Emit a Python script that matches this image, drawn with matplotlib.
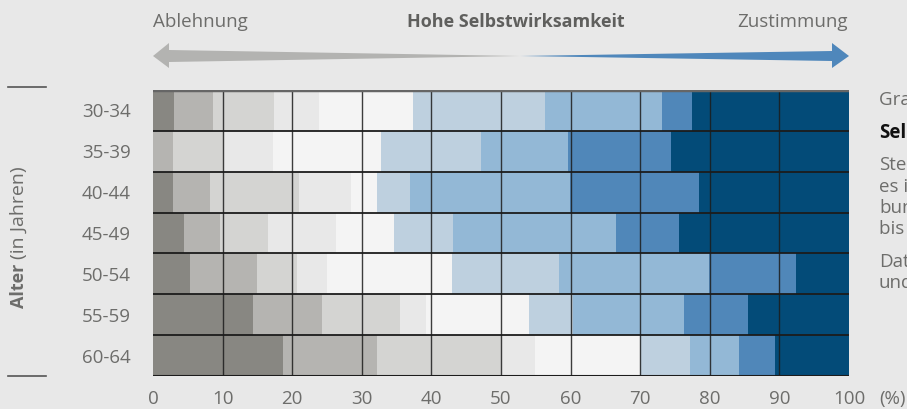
import numpy as np
import matplotlib.pyplot as plt
from matplotlib.patches import Polygon

# %% data
ages = ['30-34', '35-39', '40-44', '45-49', '50-54', '55-59', '60-64']
# shares per answer category (%), from Ablehnung (left) to Zustimmung (right)
cat1 = [3.0, 0.0, 2.9, 4.4, 5.3, 14.4, 18.7]
cat2 = [5.6, 2.9, 5.3, 5.2, 9.6, 9.9, 13.5]
cat3 = [8.8, 7.1, 12.8, 6.9, 5.8, 11.2, 17.8]
cat4 = [6.4, 7.2, 7.4, 9.8, 4.3, 3.7, 4.9]
cat5 = [13.5, 15.5, 3.8, 8.3, 17.9, 14.8, 15.1]
cat6 = [19.0, 14.4, 4.7, 8.5, 15.4, 6.4, 7.1]
cat7 = [16.8, 12.5, 23.0, 23.4, 21.6, 15.9, 7.1]
cat8 = [4.3, 14.8, 18.5, 9.1, 12.5, 9.2, 5.2]
cat9 = [22.6, 25.6, 21.6, 24.4, 7.6, 14.5, 10.6]
xticks = [0, 10, 20, 30, 40, 50, 60, 70, 80, 90, 100]

colors = ['#888782', '#b5b4b1', '#d4d4d2', '#e8e8e8', '#f4f4f4',
          '#bed0df', '#93b8d6', '#5087b9', '#034b78']
series = [cat1, cat2, cat3, cat4, cat5, cat6, cat7, cat8, cat9]

BG = '#e8e8e8'
TXT = '#6d6d6b'
FS = 13.5
plt.rcParams['font.family'] = ['Open Sans', 'DejaVu Sans']

px = 1/100
fig = plt.figure(figsize=(907*px, 409*px), dpi=100, facecolor=BG)
W, H = 907, 409
ax = fig.add_axes([153/W, 1-376/H, (849-153)/W, (376-90)/H])
ax.set_facecolor(BG)

y = np.arange(len(ages))
left = np.zeros(len(ages))
for vals, c in zip(series, colors):
    ax.barh(y, vals, left=left, height=1.0, color=c, edgecolor='none', zorder=1)
    left += np.array(vals)

ax.set_xlim(0, 100)
ax.set_ylim(len(ages)-0.5, -0.5)

# grid lines on top of the bars
for xv in xticks[1:-1]:
    ax.axvline(xv, color='#1c1c1c', lw=1.0, zorder=3, alpha=0.85)
for yv in np.arange(0.5, len(ages)-1, 1.0):
    ax.axhline(yv, color='#1c1c1c', lw=1.3, zorder=4)
ax.axhline(-0.5, color='#666666', lw=2.5, zorder=4)
ax.axhline(len(ages)-0.5, color='#1c1c1c', lw=1.5, zorder=4)

for s in ax.spines.values():
    s.set_visible(False)
ax.set_yticks(y)
ax.set_yticklabels(ages)
ax.set_xticks(xticks)
ax.tick_params(length=0, labelsize=FS, labelcolor=TXT)
ax.tick_params(axis='y', pad=16)
ax.tick_params(axis='x', pad=10)
fig.text(879/W, 1-399/H, '(%)', fontsize=FS, color=TXT, va='center', ha='left')

# y axis label and the short rules
fig.text(19/W, 1-259/H, '(in Jahren)', fontsize=14, color=TXT,
         rotation=90, ha='center', va='bottom')
fig.text(19/W, 1-264/H, 'Alter', fontsize=13, color=TXT, weight='bold',
         rotation=90, ha='center', va='top')
fig.lines.append(plt.Line2D([8/W, 46/W], [1-87/H, 1-87/H], transform=fig.transFigure, color='#555555', lw=1.2))
fig.lines.append(plt.Line2D([8/W, 46/W], [1-376/H, 1-376/H], transform=fig.transFigure, color='#555555', lw=1.2))

# header with arrows
fig.text(153/W, 1-22/H, 'Ablehnung', fontsize=FS, color=TXT, va='center', ha='left')
fig.text(516/W, 1-22/H, 'Hohe Selbstwirksamkeit', fontsize=13, color='#5f5f5d',
         weight='bold', va='center', ha='center')
fig.text(848/W, 1-22/H, 'Zustimmung', fontsize=FS, color=TXT, va='center', ha='right')


def fig_poly(pts, color):
    pts = [(xp/W, 1-yp/H) for xp, yp in pts]
    fig.patches.append(Polygon(pts, closed=True, transform=fig.transFigure,
                               facecolor=color, edgecolor='none'))


cy = 56
fig_poly([(520, cy), (169, cy-6), (169, cy-13), (153, cy), (169, cy+12), (169, cy+6)], '#b3b3b1')
fig_poly([(520, cy), (832, cy-5), (832, cy-13), (849, cy), (832, cy+12), (832, cy+5)], '#4f87bb')

# side text panel (cut off at the edge, as in the source layout)
side = [(100, 'Grafik 3', TXT, 'normal'),
        (133, 'Selbstwirksamkeit', '#111111', 'bold'),
        (165, 'Stellungnahmen', TXT, 'normal'),
        (187, 'es ist mir', TXT, 'normal'),
        (208, 'bundesweit', TXT, 'normal'),
        (229, 'bis 64 Jahre', TXT, 'normal'),
        (262, 'Daten', TXT, 'normal'),
        (283, 'und', TXT, 'normal')]
for yp, s, c, w in side:
    fig.text(879/W, 1-yp/H, s, fontsize=FS, color=c, weight=w, va='center', ha='left')

fig.savefig('out.png', dpi=100, facecolor=BG)
